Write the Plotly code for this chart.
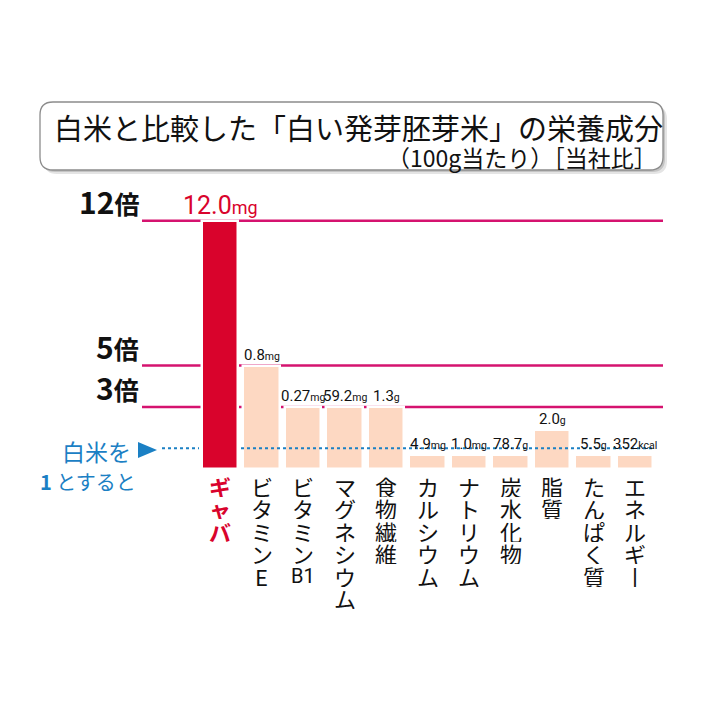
import re
import plotly.graph_objects as go

# ---------------- data ----------------
categories = ["ギャバ", "ビタミンE", "ビタミンB1", "マグネシウム", "食物繊維",
              "カルシウム", "ナトリウム", "炭水化物", "脂質", "たんぱく質", "エネルギー"]
ratio_values = [12, 5, 3, 3, 3, 0.7, 0.7, 0.7, 1.9, 0.7, 0.7]
value_labels = ["12.0mg", "0.8mg", "0.27mg", "59.2mg", "1.3g",
                "4.9mg", "1.0mg", "78.7g", "2.0g", "5.5g", "352kcal"]
tick_values = [12, 5, 3]
tick_labels = ["12倍", "5倍", "3倍"]
base_value = 1
title_text = "白米と比較した「白い発芽胚芽米」の栄養成分"
subtitle_text = "（100g当たり）［当社比］"

# ---------------- style ----------------
RED = "#d9032c"
PEACH = "#fdd8c2"
MAGENTA = "#d5136f"
BLUE = "#1b80c4"
JP = "Noto Sans CJK JP, Noto Sans, sans-serif"
NUM = "Roboto, Liberation Sans, sans-serif"

OFF = 8  # page body margin in the browser
W, H = 700, 700
L, R, T, B = 134, 45, 182, 239
PW, PH = W - L - R, H - T - B
XR = [-1.88, 10.67]
YR = [0, 13.48]


def px(xp):
    """screen x pixel -> paper"""
    return (xp - OFF - L) / PW


def py(yp):
    """screen y pixel -> paper"""
    return (H - B - (yp - OFF)) / PH


fig = go.Figure()
fig.add_trace(go.Bar(
    x=list(range(len(categories))), y=ratio_values,
    width=0.88,
    marker=dict(color=[RED] + [PEACH] * (len(categories) - 1),
                line=dict(color="white", width=2.5)),
    hoverinfo="skip", showlegend=False,
))

shapes = []
annotations = []

# reference lines
for v in tick_values:
    shapes.append(dict(type="line", xref="paper", yref="y", x0=0, x1=1, y0=v, y1=v,
                       line=dict(color=MAGENTA, width=2.5), layer="below"))
# tick labels
for v, lab in zip(tick_values, tick_labels):
    num, unit = lab[:-1], lab[-1]
    annotations.append(dict(
        xref="paper", yref="y", x=px(141), y=v, xanchor="right", yanchor="bottom",
        yshift=-4, showarrow=False,
        text=f"<b>{num}</b><span style='font-size:25px'><b>{unit}</b></span>",
        font=dict(family=JP, size=30, color="#111111")))

# dotted base line
for x0, x1 in [(162, 199), (241, 652)]:
    shapes.append(dict(type="line", xref="paper", yref="y", x0=px(x0), x1=px(x1),
                       y0=base_value, y1=base_value,
                       line=dict(color=BLUE, width=2, dash="dot"), layer="above"))
# triangle marker
tri = f"M {px(138)} {py(442)} L {px(138)} {py(458)} L {px(157)} {py(450)} Z"
shapes.append(dict(type="path", xref="paper", yref="paper", path=tri,
                   fillcolor=BLUE, line=dict(width=0)))
annotations.append(dict(xref="paper", yref="paper", x=px(133), y=py(451),
                        xanchor="right", yanchor="middle", showarrow=False,
                        text="白米を", font=dict(family=JP, size=23, color=BLUE)))
annotations.append(dict(xref="paper", yref="paper", x=px(38), y=py(481),
                        xanchor="left", yanchor="middle", showarrow=False,
                        text="<b>1</b> とすると", font=dict(family=JP, size=20, color=BLUE)))

# value labels
for i, (v, lab) in enumerate(zip(ratio_values, value_labels)):
    m = re.match(r"([\d.]+)(.*)", lab)
    num, unit = m.group(1), m.group(2)
    big = 25 if i == 0 else 15
    small = 18 if i == 0 else 10.5
    col = RED if i == 0 else "#111111"
    annotations.append(dict(
        xref="x", yref="y", x=i, y=v, xanchor="center", yanchor="bottom",
        yshift=0 if i else -1, showarrow=False,
        text=f"{num}<span style='font-size:{small}px'>{unit}</span>",
        font=dict(family=NUM, size=big, color=col)))

# vertical category labels (one annotation per character, stacked)
for i, cat in enumerate(categories):
    tokens = re.findall(r"[A-Za-z0-9]+|.", cat)
    for k, tok in enumerate(tokens):
        tok_disp = "丨" if tok == "ー" else tok
        multi = bool(re.match(r"[A-Za-z0-9]{2,}", tok))
        annotations.append(dict(
            xref="x", yref="paper", x=i, y=py(486 + k * 22.4),
            xanchor="center", yanchor="middle", showarrow=False,
            height=22, borderpad=0, valign="middle",
            text=f"<b>{tok_disp}</b>" if i == 0 else tok_disp,
            font=dict(family=NUM if multi else JP, size=20 if multi else 22,
                      color=RED if i == 0 else "#111111")))


# title box
def rrect(x0, y0, x1, y1, r):
    return (f"M {px(x0 + r)} {py(y0)} L {px(x1 - r)} {py(y0)} "
            f"Q {px(x1)} {py(y0)} {px(x1)} {py(y0 + r)} L {px(x1)} {py(y1 - r)} "
            f"Q {px(x1)} {py(y1)} {px(x1 - r)} {py(y1)} L {px(x0 + r)} {py(y1)} "
            f"Q {px(x0)} {py(y1)} {px(x0)} {py(y1 - r)} L {px(x0)} {py(y0 + r)} "
            f"Q {px(x0)} {py(y0)} {px(x0 + r)} {py(y0)} Z")


shapes.append(dict(type="path", xref="paper", yref="paper", path=rrect(44, 106, 667, 174, 13),
                   fillcolor="#e4e4e4", line=dict(width=0), layer="below"))
shapes.append(dict(type="path", xref="paper", yref="paper", path=rrect(42, 104, 665, 172, 13),
                   fillcolor="#c4c4c4", line=dict(width=0), layer="below"))
shapes.append(dict(type="path", xref="paper", yref="paper", path=rrect(40, 102, 663, 170, 13),
                   fillcolor="white", line=dict(color="#8c8c8c", width=1.3), layer="below"))
annotations.append(dict(xref="paper", yref="paper", x=px(52), y=py(127),
                        xanchor="left", yanchor="middle", showarrow=False,
                        text=title_text, font=dict(family=JP, size=29, color="#111111")))
annotations.append(dict(xref="paper", yref="paper", x=px(659), y=py(157),
                        xanchor="right", yanchor="middle", showarrow=False,
                        text=subtitle_text, font=dict(family=JP, size=23, color="#111111")))

fig.update_layout(
    width=W, height=H, margin=dict(l=L, r=R, t=T, b=B, pad=0),
    paper_bgcolor="white", plot_bgcolor="white",
    xaxis=dict(range=XR, visible=False, fixedrange=True),
    yaxis=dict(range=YR, visible=False, fixedrange=True),
    shapes=shapes, annotations=annotations, bargap=0, showlegend=False,
)
fig.write_html("out.html")
